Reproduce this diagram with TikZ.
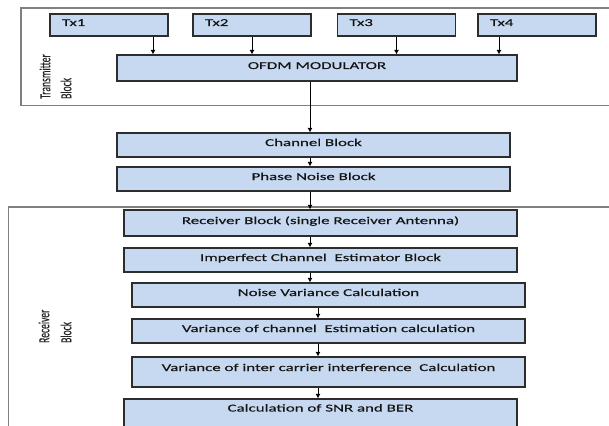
\documentclass[tikz,border=0pt]{standalone}
\usepackage{fontspec}
\setmainfont{Carlito}
\newfontfamily\wfont[FakeStretch=1.61,FakeBold=0.3]{Carlito}
\newfontfamily\sfont[FakeBold=0.3]{Carlito}
\usetikzlibrary{arrows.meta}
\definecolor{boxfill}{RGB}{198,217,240}
\definecolor{boxline}{RGB}{45,45,45}
\definecolor{frame}{RGB}{128,128,128}
\begin{document}
\begin{tikzpicture}[x=1pt,y=-1pt,
  blk/.style={draw=boxline, line width=1.1pt, fill=boxfill, inner sep=0pt,
    text height=7pt, text depth=5pt, font=\wfont\fontsize{10.5}{12}\selectfont, text=black!92},
  txbox/.style={blk, minimum width=118pt, minimum height=22pt, text width=94pt, align=left},
  wide/.style={blk, minimum width=393pt, minimum height=24pt},
  arr/.style={-{Latex[length=4.5pt,width=5pt]}, line width=0.9pt, black},
  frm/.style={draw=frame, line width=1.3pt},
  sidelbl/.style={rotate=90, anchor=west, inner sep=0pt, font=\sfont\fontsize{9.6}{11}\selectfont, text=black!85}]
\useasboundingbox (0,0) rectangle (609,425);
\clip (0,0) rectangle (609,425);
% frames
\draw[frm] (21,8) rectangle (640,105.5);
\draw[frm] (8.5,207) rectangle (640,470);
% transmitter
\node[txbox] (tx1) at (109,25) {Tx1};
\node[txbox] (tx2) at (252,25) {Tx2};
\node[txbox] (tx3) at (396.5,25) {Tx3};
\node[txbox] (tx4) at (537,25) {Tx4};
\node[blk, minimum width=400pt, minimum height=26pt] (ofdm) at (317,68) {OFDM MODULATOR};
% chain
\node[wide] (chan) at (313.5,145) {Channel Block};
\node[wide] (phase) at (313.5,179) {Phase Noise Block};
\node[wide, minimum height=26pt] (rx) at (320.5,223) {Receiver Block (single Receiver Antenna)};
\node[wide] (imp) at (320.5,260) {Imperfect Channel\ \ Estimator Block};
\node[wide] (noise) at (328.5,295) {Noise Variance Calculation};
\node[wide] (varch) at (328.5,331) {Variance of channel\ \ Estimation calculation};
\node[wide, minimum height=30pt, text depth=9pt] (varici) at (328.5,372) {Variance of inter carrier interference\ \ Calculation};
\node[wide, minimum height=38pt, text depth=20pt] (snr) at (320.5,418) {Calculation of SNR and BER};
% side labels
\node[sidelbl] (tlab1) at (45,99) {\scalebox{1}[1.6]{Transmitter}};
\node[sidelbl] (tlab2) at (66,99) {\scalebox{1}[1.6]{Block}};
\node[sidelbl] (rlab1) at (44,343) {\scalebox{1}[1.6]{Receiver}};
\node[sidelbl] (rlab2) at (66,343) {\scalebox{1}[1.6]{Block}};
% connectors
\coordinate (ma) at (310,0);
\coordinate (mb) at (318,0);
\draw[arr] ([xshift=44pt]tx1.south) -- ([xshift=44pt]tx1.south |- ofdm.north);
\draw[arr] (tx2.south) -- (tx2.south |- ofdm.north);
\draw[arr] (tx3.south) -- (tx3.south |- ofdm.north);
\draw[arr] ([xshift=-38pt]tx4.south) -- ([xshift=-38pt]tx4.south |- ofdm.north);
\draw[arr] (ofdm.south -| ma) -- (chan.north -| ma);
\draw[arr] (chan.south -| ma) -- (phase.north -| ma);
\draw[arr] (phase.south -| ma) -- (rx.north -| ma);
\draw[arr] (rx.south -| ma) -- (imp.north -| ma);
\draw[arr] (imp.south -| ma) -- (noise.north -| ma);
\draw[arr] (noise.south -| mb) -- (varch.north -| mb);
\draw[arr] (varch.south -| mb) -- (varici.north -| mb);
\draw[arr] (varici.south -| mb) -- (snr.north -| mb);
\end{tikzpicture}
\end{document}
